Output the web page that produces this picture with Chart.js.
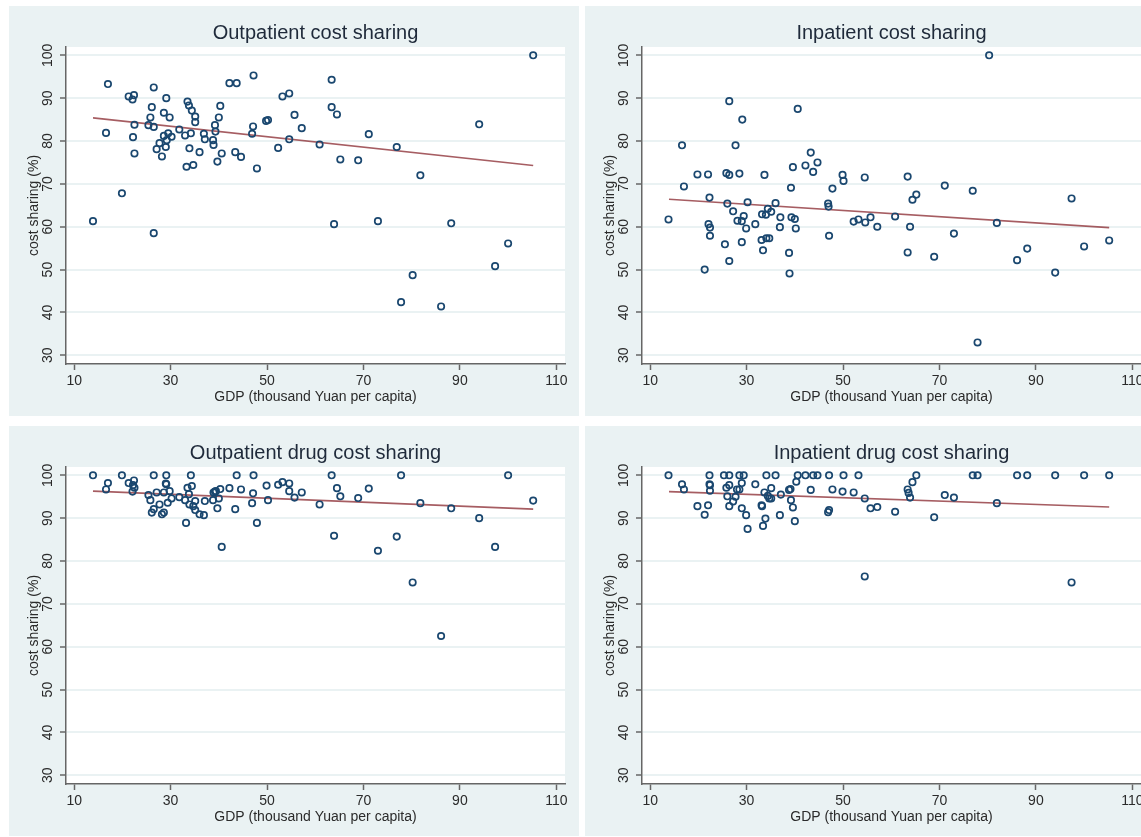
<!DOCTYPE html>
<html>
<head>
<meta charset="utf-8">
<script src="https://cdn.jsdelivr.net/npm/chart.js@4.4.1/dist/chart.umd.min.js"></script>
<style>
  html, body { margin: 0; padding: 0; background: #fff; overflow: hidden; }
  body { width: 1141px; height: 837px; position: relative; }
  canvas { position: absolute; background: #eaf2f3; }
</style>
</head>
<body>
<canvas id="c1" width="570" height="410" style="left:9px;top:6px"></canvas>
<canvas id="c2" width="570" height="410" style="left:585px;top:6px"></canvas>
<canvas id="c3" width="570" height="410" style="left:9px;top:426px"></canvas>
<canvas id="c4" width="570" height="410" style="left:585px;top:426px"></canvas>
<script>
// axis ticks
const xTicks = [10, 30, 50, 70, 90, 110];
const yTicks = [30, 40, 50, 60, 70, 80, 90, 100];

// Outpatient cost sharing
const outGdp = [13.9,16.6,17.0,19.9,21.3,22.1,22.4,22.2,22.5,22.5,25.4,25.8,26.1,26.5,26.5,26.5,27.1,27.7,28.2,28.6,28.6,29.0,29.1,29.2,29.5,29.8,30.2,31.8,33.0,33.3,33.5,33.8,33.9,34.2,34.4,34.7,35.1,35.1,36.0,36.9,37.1,38.8,38.9,39.2,39.3,39.7,40.0,40.3,40.6,42.2,43.4,43.7,44.6,46.9,47.1,47.2,47.9,49.8,50.2,52.3,53.2,54.6,54.6,55.7,57.2,60.9,63.4,63.4,63.9,64.5,65.2,68.9,71.1,73.0,76.9,77.8,80.2,81.8,86.1,88.2,94.0,97.3,100.0,105.2];
const outShare = [61.3,81.9,93.3,67.8,90.4,89.7,90.7,80.9,83.8,77.1,83.7,85.5,87.9,92.5,83.3,58.5,78.1,79.5,76.4,86.6,81.2,78.6,90.0,80.2,81.8,85.5,81.0,82.7,81.3,74.0,89.2,88.3,78.3,81.8,87.1,74.4,85.7,84.4,77.4,81.7,80.4,80.2,79.1,83.7,82.2,75.2,85.5,88.2,77.1,93.5,77.4,93.5,76.3,81.7,83.4,95.3,73.6,84.7,84.9,78.4,90.4,91.1,80.4,86.1,83.0,79.2,94.3,87.9,60.6,86.2,75.7,75.5,81.6,61.3,78.6,42.4,48.7,72.0,41.4,60.8,83.9,50.8,56.1,100];

// Inpatient cost sharing
const inGdp = [13.8,16.6,17.0,19.8,21.3,22.0,22.1,22.3,22.4,22.4,25.5,25.8,26.0,26.4,26.4,26.4,27.2,27.7,28.1,28.5,29.0,29.0,29.1,29.4,29.9,30.2,31.8,33.1,33.2,33.4,33.7,34.0,34.1,34.4,34.7,35.1,36.0,36.9,37.0,38.8,38.9,39.2,39.3,39.6,40.0,40.2,40.6,42.2,43.3,43.8,44.7,46.9,47.0,47.1,47.8,49.9,50.1,52.2,53.2,54.5,54.6,55.7,57.1,60.8,63.4,63.4,63.9,64.4,65.2,68.9,71.1,73.0,76.9,77.9,80.3,81.9,86.1,88.2,94.0,97.4,100.0,105.2];
const inShare = [61.7,79.0,69.4,72.2,50.0,72.2,60.6,66.8,59.8,57.9,55.9,72.5,65.4,89.3,72.1,52.0,63.6,79.0,61.4,72.4,61.3,56.4,85.0,62.5,59.6,65.7,60.6,56.9,62.9,54.5,72.1,62.8,57.3,64.2,57.3,63.5,65.5,59.9,62.2,53.9,49.1,69.1,62.2,73.9,61.8,59.6,87.5,74.3,77.3,72.8,75.0,65.4,64.7,57.9,68.9,72.1,70.7,61.2,61.7,71.5,61.0,62.2,60.0,62.4,54.0,71.7,60.0,66.3,67.5,53.0,69.6,58.4,68.4,33.0,100,60.9,52.2,54.9,49.3,66.6,55.4,56.8];

// Outpatient drug cost sharing
const outDrugGdp = [13.9,16.6,17.0,19.9,21.3,22.1,22.4,22.2,22.5,25.4,25.8,26.1,26.5,26.5,27.1,27.7,28.2,28.6,28.6,29.0,29.1,29.1,29.4,29.8,30.2,31.8,33.0,33.2,33.5,33.8,33.9,34.2,34.4,34.7,35.1,35.1,36.0,36.9,37.1,38.8,38.9,39.2,39.4,39.7,40.0,40.3,40.6,42.2,43.4,43.7,44.6,46.9,47.1,47.2,47.9,49.9,50.2,52.3,53.2,54.6,54.6,55.7,57.2,60.9,63.4,63.9,64.5,65.2,68.9,71.1,73.0,76.9,77.8,80.2,81.8,86.1,88.2,94.0,97.3,100.0,105.2];
const outDrugShare = [100,96.7,98.2,100,98.2,96.2,98.8,97.7,97.1,95.4,94.2,91.3,100,92.1,96.0,93.2,90.9,91.3,96.0,98.1,100,97.9,93.6,96.3,94.6,94.9,94.2,88.9,97.1,95.6,93.2,100,97.5,92.8,94.0,91.9,90.9,90.7,94.0,94.2,96.0,96.2,96.3,92.3,94.6,96.8,83.3,97.0,92.1,100,96.7,93.5,95.8,100,88.9,97.6,94.2,97.8,98.4,98.1,96.3,94.8,96.0,93.2,100,85.9,97.0,95.1,94.7,96.9,82.4,85.7,100,75.0,93.5,62.5,92.3,90.0,83.3,100,94.1];

// Inpatient drug cost sharing
const inDrugGdp = [13.8,16.6,17.0,19.8,21.3,22.0,22.3,22.3,22.4,22.4,25.3,25.8,26.0,26.4,26.4,26.4,27.2,27.7,28.0,28.5,28.5,29.0,29.0,29.4,29.9,30.2,31.8,33.1,33.2,33.4,33.7,33.9,34.1,34.4,34.7,35.1,35.1,36.0,36.9,37.1,38.8,39.1,39.2,39.6,40.0,40.3,40.6,42.2,43.3,43.8,44.7,46.9,47.1,47.1,47.8,49.9,50.1,52.2,53.2,54.5,54.5,55.7,57.1,60.8,63.4,63.6,63.9,64.4,65.2,68.9,71.1,73.0,76.9,77.9,81.9,86.1,88.2,94.0,97.4,100.0,105.2];
const inDrugShare = [100,97.9,96.7,92.8,90.8,93.0,100,97.9,97.7,96.4,100,97.1,95.1,100,97.7,92.8,93.9,95.0,96.7,96.7,100,98.2,92.3,100,90.7,87.5,97.9,93.0,92.8,88.2,96.0,89.9,100,95.2,94.6,97.0,94.6,100,90.7,95.5,96.6,96.8,94.2,92.5,89.3,98.5,100,100,96.6,100,100,91.4,91.9,100,96.7,96.2,100,96.0,100,94.6,76.4,92.3,92.6,91.5,96.7,95.9,94.8,98.4,100,90.2,95.4,94.8,100,100,93.5,100,100,100,75.0,100,100];

// fitted lines (end points)
const fitGdp = [13.9, 105.2];
const outFit = [85.4, 74.3];
const inFit = [66.4, 59.8];
const outDrugFit = [96.3, 92.1];
const inDrugFit = [96.2, 92.6];

const FONT = "'Liberation Sans', Arial, sans-serif";

// white plot region + title centred on it
const panelPlugin = {
    id: "panel",
    beforeDraw(chart) {
        const { ctx, chartArea: a } = chart;
        ctx.save();
        ctx.fillStyle = "#ffffff";
        ctx.fillRect(a.left, a.top, a.right - a.left, a.bottom - a.top);
        ctx.fillStyle = "#1f2a3a";
        ctx.font = "20px " + FONT;
        ctx.textAlign = "center";
        ctx.textBaseline = "middle";
        ctx.fillText(chart.options.panelTitle, (a.left + a.right) / 2, 27);
        ctx.restore();
    },
};

function makePanel(id, title, xs, ys, fit) {
    const ctx = document.getElementById(id).getContext("2d");
    return new Chart(ctx, {
        type: "scatter",
        data: {
            datasets: [
                {
                    data: xs.map((x, i) => ({ x: x, y: ys[i] })),
                    pointStyle: "circle",
                    pointRadius: 3.2,
                    borderWidth: 1.7,
                    borderColor: "#1a476f",
                    backgroundColor: "rgba(255,255,255,0)",
                },
                {
                    type: "line",
                    data: fitGdp.map((x, i) => ({ x: x, y: fit[i] })),
                    borderColor: "rgba(144,53,59,0.8)",
                    borderWidth: 1.6,
                    pointRadius: 0,
                    fill: false,
                },
            ],
        },
        options: {
            panelTitle: title,
            responsive: false,
            animation: false,
            events: [],
            layout: { padding: { top: 41, right: 14, left: 0, bottom: 0 } },
            plugins: { legend: { display: false }, tooltip: { enabled: false } },
            scales: {
                x: {
                    type: "linear",
                    min: 8.3,
                    max: 111.8,
                    afterFit: (s) => { s.height = 52; },
                    afterBuildTicks: (s) => { s.ticks = xTicks.map((v) => ({ value: v })); },
                    border: { color: "#666", width: 1.5 },
                    grid: { drawOnChartArea: false, tickLength: 6, tickColor: "#666", tickWidth: 1.5 },
                    ticks: { color: "#2b2b2b", padding: 3, maxRotation: 0, font: { family: FONT, size: 14 } },
                    title: {
                        display: true,
                        text: "GDP (thousand Yuan per capita)",
                        color: "#2b2b2b",
                        font: { family: FONT, size: 14 },
                        padding: { top: 0, bottom: 10 },
                    },
                },
                y: {
                    min: 27.97,
                    max: 101.94,
                    afterFit: (s) => { s.width = 57; },
                    afterBuildTicks: (s) => { s.ticks = yTicks.map((v) => ({ value: v })); },
                    border: { color: "#666", width: 1.5 },
                    grid: { color: "#eaf2f3", lineWidth: 2, tickLength: 6, tickColor: "#666", tickWidth: 1.5 },
                    ticks: {
                        color: "#2b2b2b",
                        padding: 0,
                        minRotation: 90,
                        maxRotation: 90,
                        crossAlign: "center",
                        font: { family: FONT, size: 14 },
                    },
                    title: {
                        display: true,
                        text: "cost sharing (%)",
                        color: "#2b2b2b",
                        font: { family: FONT, size: 14 },
                        padding: { top: 17, bottom: 0 },
                    },
                },
            },
        },
        plugins: [panelPlugin],
    });
}

makePanel("c1", "Outpatient cost sharing", outGdp, outShare, outFit);
makePanel("c2", "Inpatient cost sharing", inGdp, inShare, inFit);
makePanel("c3", "Outpatient drug cost sharing", outDrugGdp, outDrugShare, outDrugFit);
makePanel("c4", "Inpatient drug cost sharing", inDrugGdp, inDrugShare, inDrugFit);
</script>
</body>
</html>
